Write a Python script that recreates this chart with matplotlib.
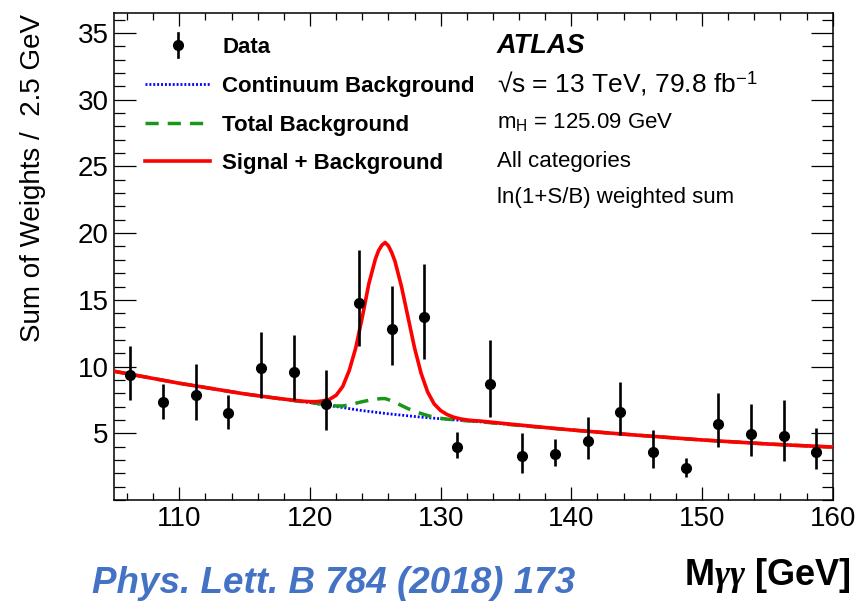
import matplotlib
matplotlib.use('Agg')
import matplotlib.pyplot as plt
from matplotlib.lines import Line2D
from matplotlib.ticker import MultipleLocator, FixedLocator

plt.rcParams['font.family'] = ['Liberation Sans', 'DejaVu Sans']
plt.rcParams['mathtext.fontset'] = 'custom'
plt.rcParams['mathtext.rm'] = 'Liberation Sans'
plt.rcParams['mathtext.it'] = 'Liberation Serif:italic:bold'
plt.rcParams['mathtext.bf'] = 'Liberation Sans:bold'

# ---------------- data ----------------
mass = [106.25, 108.75, 111.25, 113.75, 116.25, 118.75, 121.25, 123.75, 126.25, 128.75,
        131.25, 133.75, 136.25, 138.75, 141.25, 143.75, 146.25, 148.75, 151.25, 153.75,
        156.25, 158.75]
weights = [9.38, 7.33, 7.88, 6.5, 9.88, 9.63, 7.23, 14.75, 12.8, 13.75,
           4.0, 8.7, 3.28, 3.45, 4.4, 6.63, 3.63, 2.38, 5.73, 4.95,
           4.8, 3.58]
err_down = [1.88, 1.23, 1.88, 1.17, 2.25, 2.13, 1.98, 3.2, 2.7, 3.15,
            0.87, 2.45, 1.23, 0.9, 1.35, 1.75, 1.2, 0.63, 1.73, 1.62,
            1.85, 1.28]
err_up = [2.19, 1.37, 2.32, 1.38, 2.72, 2.77, 2.52, 4.0, 3.25, 3.95,
          1.08, 3.3, 1.72, 1.1, 1.85, 2.25, 1.62, 0.75, 2.27, 2.23,
          2.7, 1.8]

curve_mass = [105, 107.5, 110, 112.5, 115, 117.5,
              119, 119.5, 120, 120.5, 121, 121.5, 122, 122.5, 123, 123.5, 124, 124.5,
              125, 125.25, 125.5, 125.75, 126, 126.25, 126.5, 127, 127.5, 128, 128.5,
              129, 129.5, 130, 130.5, 131, 131.5, 132, 132.5, 133,
              135, 137.5, 140, 142.5, 145, 147.5, 150, 152.5, 155, 157.5, 160]
continuum = [9.65, 9.2, 8.75, 8.35, 7.95, 7.62,
             7.42, 7.36, 7.3, 7.22, 7.14, 7.07, 7.0, 6.93, 6.85, 6.77, 6.7, 6.64,
             6.58, 6.55, 6.52, 6.49, 6.46, 6.435, 6.41, 6.36, 6.31, 6.26, 6.21,
             6.17, 6.13, 6.09, 6.05, 6.01, 5.97, 5.93, 5.9, 5.86,
             5.68, 5.46, 5.25, 5.05, 4.86, 4.68, 4.5, 4.35, 4.2, 4.08, 3.97]
total_bkg = [9.65, 9.2, 8.75, 8.35, 7.95, 7.62,
             7.42, 7.36, 7.31, 7.24, 7.17, 7.1, 7.05, 7.05, 7.12, 7.25, 7.37, 7.47,
             7.55, 7.58, 7.6, 7.6, 7.52, 7.43, 7.32, 7.08, 6.85, 6.65, 6.48,
             6.33, 6.2, 6.12, 6.06, 6.02, 5.98, 5.94, 5.91, 5.87,
             5.68, 5.46, 5.25, 5.05, 4.86, 4.68, 4.5, 4.35, 4.2, 4.08, 3.97]
sig_plus_bkg = [9.65, 9.2, 8.75, 8.35, 7.95, 7.62,
                7.45, 7.4, 7.37, 7.37, 7.43, 7.55, 7.85, 8.5, 9.7, 11.4, 13.7, 16.2,
                18.05, 18.7, 19.1, 19.3, 19.05, 18.55, 17.9, 16.0, 13.7, 11.4, 9.5,
                8.1, 7.2, 6.7, 6.4, 6.2, 6.08, 6.0, 5.95, 5.92,
                5.72, 5.48, 5.25, 5.05, 4.86, 4.68, 4.5, 4.35, 4.2, 4.08, 3.97]

x_ticks = [110, 120, 130, 140, 150, 160]
y_ticks = [5, 10, 15, 20, 25, 30, 35]

legend_labels = ['Data', 'Continuum Background', 'Total Background', 'Signal + Background']
info_lines = ['m$_{\\mathrm{H}}$ = 125.09 GeV', 'All categories', 'ln(1+S/B) weighted sum']

# ---------------- layout helpers ----------------
W, H = 858, 602
def fx(px):
    return px / W
def fy(py):
    return 1 - py / H

fig = plt.figure(figsize=(W / 100, H / 100), dpi=100)
ax = fig.add_axes([fx(114), fy(500), (832.7 - 114) / W, (500 - 13) / H])

c_blue = '#0000ff'
c_green = '#1a961a'
c_red = '#ff0000'
blue_kw = dict(color=c_blue, lw=2.0, dashes=(0.7, 0.7))
green_kw = dict(color=c_green, lw=2.5, dashes=(3.8, 2.6))
red_kw = dict(color=c_red, lw=2.6)

ax.plot(curve_mass, continuum, zorder=2, **blue_kw)
ax.plot(curve_mass, total_bkg, zorder=3, **green_kw)
ax.plot(curve_mass, sig_plus_bkg, zorder=4, **red_kw)
ax.errorbar(mass, weights, yerr=[err_down, err_up], fmt='o', color='black',
            ms=7, elinewidth=1.9, capsize=0, zorder=5)

ax.set_xlim(105, 160)
ax.set_ylim(0, 36.5)
ax.xaxis.set_major_locator(FixedLocator(x_ticks))
ax.xaxis.set_minor_locator(MultipleLocator(2))
ax.yaxis.set_major_locator(FixedLocator(y_ticks))
ax.yaxis.set_minor_locator(MultipleLocator(1))
ax.tick_params(which='both', direction='in', top=True, right=True, width=0.9,
               labelsize=20)
ax.xaxis.set_tick_params(which='major', length=9.5, pad=4)
ax.xaxis.set_tick_params(which='minor', length=5)
ax.yaxis.set_tick_params(which='major', length=16, pad=4)
ax.yaxis.set_tick_params(which='minor', length=8)
for s in ax.spines.values():
    s.set_linewidth(1.1)

# ---------------- legend (manual) ----------------
rows_base = [53, 92, 130.5, 169.5]
lx0, lx1 = 145, 210
fig.add_artist(Line2D([fx(178), fx(178)], [fy(33), fy(57)], color='black', lw=1.9,
                      transform=fig.transFigure))
fig.add_artist(Line2D([fx(178)], [fy(45)], marker='o', ms=7, color='black',
                      transform=fig.transFigure))
fig.add_artist(Line2D([fx(lx0), fx(lx1)], [fy(84)] * 2, transform=fig.transFigure, **blue_kw))
fig.add_artist(Line2D([fx(lx0), fx(lx1)], [fy(122.5)] * 2, transform=fig.transFigure, **green_kw))
fig.add_artist(Line2D([fx(lx0), fx(lx1)], [fy(161)] * 2, transform=fig.transFigure, **red_kw))
for lab, yb in zip(legend_labels, rows_base):
    fig.text(fx(222), fy(yb), lab, fontsize=16, fontweight='bold', va='baseline', ha='left')

# ---------------- annotations ----------------
fig.text(fx(497), fy(53), 'ATLAS', fontsize=19.5, fontweight='bold', fontstyle='italic',
         va='baseline', ha='left')
fig.text(fx(497), fy(92), '\u221as = 13 TeV, 79.8 fb$^{-1}$', fontsize=19,
         va='baseline', ha='left')
for txt, yb in zip(info_lines, [128, 167, 203]):
    fig.text(fx(497), fy(yb), txt, fontsize=16, va='baseline', ha='left')

fig.text(fx(33), fy(14), 'Sum of Weights /  2.5 GeV', rotation=90, fontsize=20,
         ha='center', va='top')
fig.text(fx(851), fy(585), 'M$\\gamma\\gamma$ [GeV]', fontsize=26, fontweight='bold',
         ha='right', va='baseline')
fig.text(fx(92), fy(593), 'Phys. Lett. B 784 (2018) 173', fontsize=26.5, fontweight='bold',
         fontstyle='italic', color='#4472C4', ha='left', va='baseline')

fig.savefig('out.png', dpi=100)
